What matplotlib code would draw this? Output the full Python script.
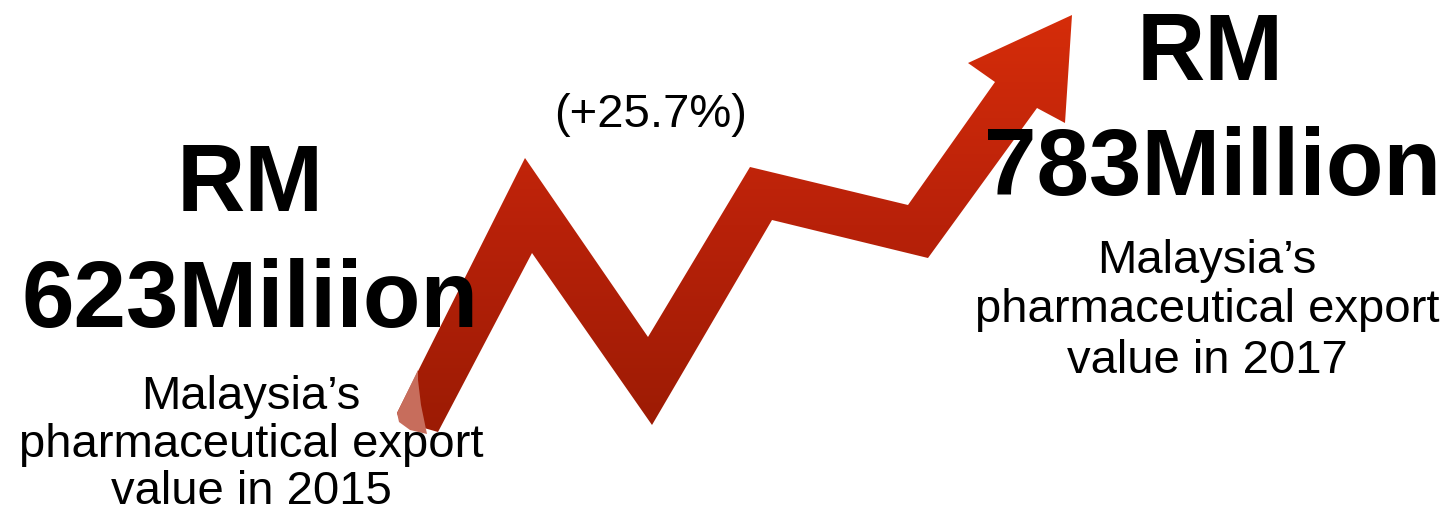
import matplotlib.pyplot as plt
import numpy as np
from matplotlib.patches import Polygon
from matplotlib.colors import LinearSegmentedColormap

# data
years = [2015, 2017]
values = [623, 783]          # RM million
units = ["Miliion", "Million"]  # spelled as in the original

growth = (values[1] - values[0]) / values[0] * 100

# zigzag arrow outline (pixel space, y down)
arrow_x = [397, 525, 648, 750, 908, 995, 968, 1072, 1065, 1037, 928, 772, 652, 532, 438, 400]
arrow_y = [413, 158, 337, 167, 205, 82, 63, 15, 123, 108, 258, 220, 425, 253, 432, 421]
tail_x = [418, 397, 399, 410, 427, 421, 418]
tail_y = [370, 413, 422, 430, 434, 405, 380]

W, H = 1454, 520
fig = plt.figure(figsize=(W / 100, H / 100), dpi=100)
ax = fig.add_axes([0, 0, 1, 1])
ax.set_xlim(0, W)
ax.set_ylim(H, 0)
ax.axis('off')

# arrow with vertical gradient
cmap = LinearSegmentedColormap.from_list('arr', ['#d62d0a', '#b82109', '#9b1b04'])
grad = np.linspace(0, 1, 256).reshape(-1, 1)
arrow = Polygon(np.column_stack([arrow_x, arrow_y]), closed=True, facecolor='none', edgecolor='none')
ax.add_patch(arrow)
im = ax.imshow(grad, cmap=cmap, aspect='auto', extent=(0, W, 440, 10), origin='upper', zorder=1)
im.set_clip_path(arrow)
ax.add_patch(Polygon(np.column_stack([tail_x, tail_y]), closed=True, facecolor='#c76d5c',
                     edgecolor='none', zorder=2))

bold = dict(family='Liberation Sans', weight='bold', fontsize=68, ha='center', va='baseline', zorder=5)
reg = dict(family='Liberation Sans', fontsize=34, ha='center', va='baseline', zorder=5)

# 2015 block
ax.text(250, 211, "RM", **bold)
ax.text(250, 327, f"{values[0]}{units[0]}", **bold)
for line, yy in zip(["Malaysia\u2019s", "pharmaceutical export", f"value in {years[0]}"], [409, 457, 504]):
    ax.text(251, yy, line, **reg)

# 2017 block
ax.text(1210, 80, "RM", **bold)
ax.text(1213, 195, f"{values[1]}{units[1]}", **bold)
for line, yy in zip(["Malaysia\u2019s", "pharmaceutical export", f"value in {years[1]}"], [273, 322, 373]):
    ax.text(1207, yy, line, **reg)

# growth label
ax.text(651, 127, f"(+{growth:.1f}%)", **reg)

fig.savefig('out.png', dpi=100, facecolor='white')
